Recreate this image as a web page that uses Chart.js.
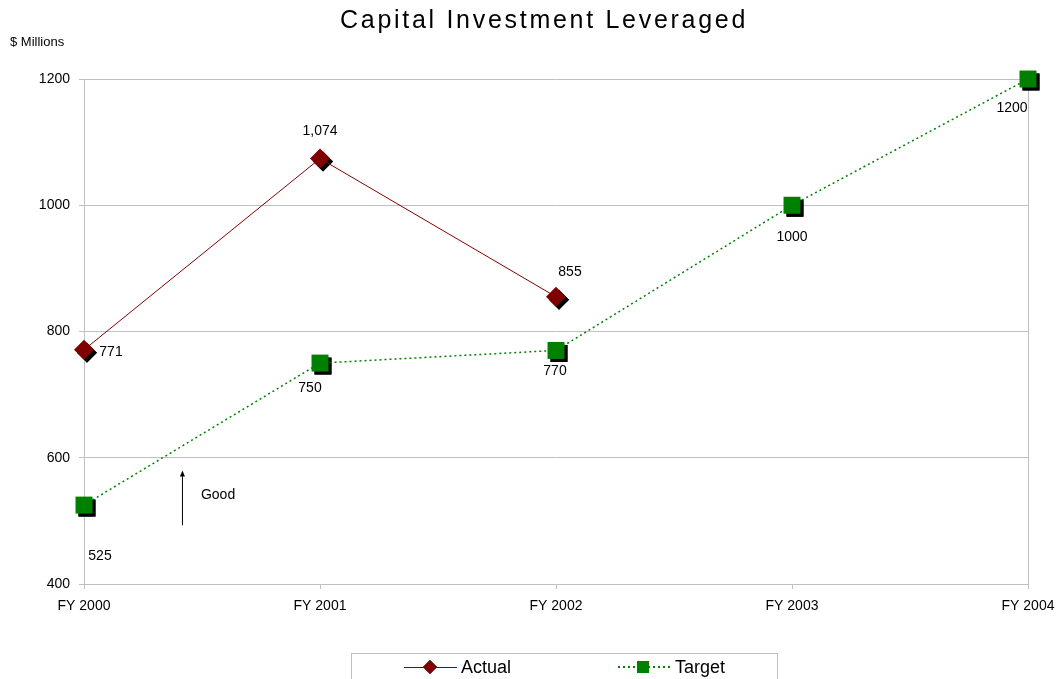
<!DOCTYPE html>
<html>
<head>
<meta charset="utf-8">
<script src="https://cdn.jsdelivr.net/npm/chart.js@4/dist/chart.umd.min.js"></script>
<style>
  html, body { margin: 0; padding: 0; background: #fff; }
  #wrap { width: 1061px; height: 679px; position: relative; }
</style>
</head>
<body>
<div id="wrap"><canvas id="capChart"></canvas></div>
<script>
const years = ['FY 2000', 'FY 2001', 'FY 2002', 'FY 2003', 'FY 2004'];
const actual = [771, 1074, 855, null, null];
const target = [525, 750, 770, 1000, 1200];
const yTicks = [400, 600, 800, 1000, 1200];

// where each value label sits relative to its point (dx, dy)
const actualLabelPos = [[27, 2], [0, -27], [14, -25]];
const targetLabelPos = [[16, 51], [-10, 25], [-1, 21], [0, 32], [-16, 29]];

const FONT = "'Liberation Sans', Arial, sans-serif";

const shadowPlugin = {
  id: 'markerShadow',
  beforeDatasetDraw(chart, args) {
    const meta = chart.getDatasetMeta(args.index);
    const ctx = chart.ctx;
    ctx.save();
    meta.data.forEach(pt => {
      if (pt.skip || isNaN(pt.y)) return;
      const o = pt.options;
      Chart.helpers.drawPoint(ctx, {
        pointStyle: o.pointStyle, radius: o.radius, rotation: o.rotation, borderWidth: 0
      }, pt.x + 3, pt.y + 3);
      ctx.fillStyle = '#000';
      ctx.fill();
    });
    ctx.restore();
  }
};

const extrasPlugin = {
  id: 'extras',
  afterDraw(chart) {
    const ctx = chart.ctx;
    const xs = chart.scales.x, ys = chart.scales.y;
    ctx.save();

    // title, stretched to the width it has in the original
    const title = 'Capital Investment Leveraged';
    ctx.fillStyle = '#000';
    ctx.textAlign = 'left';
    ctx.textBaseline = 'middle';
    ctx.font = '25px ' + FONT;
    const tw = ctx.measureText(title).width;
    ctx.letterSpacing = ((408 - tw) / title.length).toFixed(2) + 'px';
    ctx.fillText(title, 340, 21);
    ctx.letterSpacing = '0px';

    ctx.font = '13px ' + FONT;
    ctx.fillText('$ Millions', 10, 42);

    // value labels
    ctx.font = '14px ' + FONT;
    ctx.textAlign = 'center';
    actual.forEach((v, i) => {
      if (v === null) return;
      const p = actualLabelPos[i];
      ctx.fillText(v.toLocaleString('en-US'), xs.getPixelForValue(i) + p[0], ys.getPixelForValue(v) + p[1]);
    });
    target.forEach((v, i) => {
      const p = targetLabelPos[i];
      ctx.fillText(String(v), xs.getPixelForValue(i) + p[0], ys.getPixelForValue(v) + p[1]);
    });

    // "Good" arrow
    const ax = xs.getPixelForValue(0.415);
    const y0 = ys.getPixelForValue(493), y1 = ys.getPixelForValue(580);
    ctx.strokeStyle = '#000';
    ctx.lineWidth = 1;
    ctx.beginPath();
    ctx.moveTo(ax + 0.5, y0);
    ctx.lineTo(ax + 0.5, y1 + 3);
    ctx.stroke();
    ctx.fillStyle = '#000';
    ctx.beginPath();
    ctx.moveTo(ax + 0.5, y1);
    ctx.lineTo(ax - 2, y1 + 6);
    ctx.lineTo(ax + 3, y1 + 6);
    ctx.closePath();
    ctx.fill();
    ctx.textAlign = 'left';
    ctx.fillText('Good', ax + 19, ys.getPixelForValue(540));

    // legend
    ctx.strokeStyle = '#c0c0c0';
    ctx.strokeRect(351.5, 653.5, 426, 40);
    const ly = 667;
    ctx.strokeStyle = '#800000';
    ctx.beginPath(); ctx.moveTo(404, ly + 0.5); ctx.lineTo(457, ly + 0.5); ctx.stroke();
    Chart.helpers.drawPoint(ctx, { pointStyle: 'rectRot', radius: 7, borderWidth: 0 }, 430, ly);
    ctx.fillStyle = '#800000'; ctx.fill();
    ctx.strokeStyle = '#008000';
    ctx.lineWidth = 2;
    ctx.setLineDash([2, 3]);
    ctx.beginPath(); ctx.moveTo(618, ly); ctx.lineTo(670, ly); ctx.stroke();
    ctx.setLineDash([]);
    ctx.fillStyle = '#008000';
    ctx.fillRect(637, ly - 6, 12, 12);
    ctx.fillStyle = '#000';
    ctx.font = '18px ' + FONT;
    ctx.textAlign = 'left';
    ctx.fillText('Actual', 461, ly + 1);
    ctx.fillText('Target', 675, ly + 1);

    ctx.restore();
  }
};

new Chart(document.getElementById('capChart'), {
  type: 'line',
  data: {
    labels: years,
    datasets: [
      {
        label: 'Actual',
        data: actual,
        borderColor: '#800000',
        backgroundColor: '#800000',
        borderWidth: 1,
        pointStyle: 'rectRot',
        pointRadius: 10,
        pointHoverRadius: 10,
        pointBorderWidth: 0,
        tension: 0,
        clip: false
      },
      {
        label: 'Target',
        data: target,
        borderColor: '#008000',
        backgroundColor: '#008000',
        borderWidth: 1.5,
        borderDash: [2, 3],
        pointStyle: 'rect',
        pointRadius: 12,
        pointHoverRadius: 12,
        pointBorderWidth: 0,
        tension: 0,
        clip: false
      }
    ]
  },
  options: {
    responsive: true,
    maintainAspectRatio: false,
    animation: false,
    layout: { padding: { top: 79, left: 0, right: 33, bottom: 55 } },
    plugins: {
      legend: { display: false },
      title: { display: false },
      tooltip: { enabled: false }
    },
    scales: {
      x: {
        offset: false,
        afterFit(scale) {
          scale.height = 40;
          scale.paddingLeft = 0;
          scale.paddingRight = 0;
        },
        border: { color: '#c0c0c0', width: 1 },
        grid: {
          drawOnChartArea: true,
          color: c => c.index === 4 ? '#c0c0c0' : 'rgba(0,0,0,0)',
          tickColor: '#c0c0c0',
          tickLength: 5
        },
        ticks: { color: '#000', font: { family: FONT, size: 14 }, padding: 9, maxRotation: 0 }
      },
      y: {
        min: 400,
        max: 1200,
        afterFit(scale) { scale.width = 84; },
        afterBuildTicks(scale) { scale.ticks = yTicks.map(v => ({ value: v })); },
        border: { color: '#c0c0c0', width: 1 },
        grid: { color: '#c0c0c0', tickColor: '#c0c0c0', tickLength: 5 },
        ticks: {
          color: '#000',
          font: { family: FONT, size: 14 },
          padding: 9,
          callback: v => String(v)
        }
      }
    }
  },
  plugins: [shadowPlugin, extrasPlugin]
});
</script>
</body>
</html>
